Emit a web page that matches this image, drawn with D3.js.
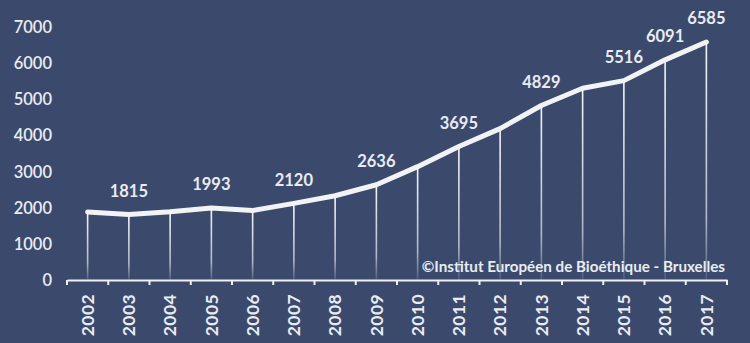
<!DOCTYPE html>
<html><head><meta charset="utf-8">
<script src="https://cdn.jsdelivr.net/npm/d3@7"></script>
<style>
html,body{margin:0;padding:0;background:#3b4a6c;}
svg{display:block;}
</style></head><body>
<svg id="chart" width="750" height="343"></svg>
<script>
const years = ["2002","2003","2004","2005","2006","2007","2008","2009","2010","2011","2012","2013","2014","2015","2016","2017"];
const values = [1882,1815,1886,1993,1923,2120,2331,2636,3136,3695,4188,4829,5306,5516,6091,6585];
const labelled = ["2003","2005","2007","2009","2011","2013","2015","2016","2017"];
const yTicks = [0,1000,2000,3000,4000,5000,6000,7000];
const credit = "©Institut Européen de Bioéthique - Bruxelles";

const W = 750, H = 343;
const svg = d3.select("#chart");
svg.append("rect").attr("width", W).attr("height", H).attr("fill", "#3b4a6c");

const x = d3.scaleBand().domain(years).range([67, 727]);
const y = d3.scaleLinear().domain([0, 7000]).range([280, 27]);
const data = years.map((yr, i) => ({year: yr, value: values[i]}));
const txt = "#e9ecf2";

const defs = svg.append("defs");
const grad = defs.append("linearGradient").attr("id", "drop").attr("x1", 0).attr("y1", 0).attr("x2", 0).attr("y2", 1);
grad.append("stop").attr("offset", "0%").attr("stop-color", "#ffffff").attr("stop-opacity", 0.95);
grad.append("stop").attr("offset", "75%").attr("stop-color", "#ffffff").attr("stop-opacity", 0.6);
grad.append("stop").attr("offset", "100%").attr("stop-color", "#ffffff").attr("stop-opacity", 0.1);

// drop lines
svg.append("g").selectAll("rect").data(data).join("rect")
  .attr("x", d => x(d.year) + x.bandwidth() / 2 - 0.8)
  .attr("width", 1.6)
  .attr("y", d => y(d.value))
  .attr("height", d => y(0) - y(d.value))
  .attr("fill", "url(#drop)");

// y axis labels
svg.append("g").selectAll("text").data(yTicks).join("text")
  .attr("x", 52).attr("y", d => y(d)).attr("dy", "0.36em")
  .attr("text-anchor", "end")
  .attr("font-family", "Lato, 'Open Sans', sans-serif")
  .attr("font-weight", 600).attr("font-size", 16.5)
  .attr("fill", txt).text(d => d);

// x axis
const xAxis = d3.axisBottom(x).tickSize(0).tickFormat(d => d);
const gx = svg.append("g").attr("transform", "translate(0,280)").call(xAxis);
gx.select(".domain").attr("stroke", "#eef0f5").attr("stroke-width", 2.2);
gx.selectAll(".tick text")
  .attr("transform", "rotate(-90)")
  .attr("x", -14).attr("y", 0).attr("dy", "0.36em")
  .attr("text-anchor", "end")
  .attr("font-family", "Lato, 'Open Sans', sans-serif")
  .attr("font-weight", 700).attr("font-size", 17.5)
  .attr("letter-spacing", 0.4)
  .attr("fill", txt);
// boundary ticks
const bounds = years.map(d => x(d)).concat([x(years[years.length - 1]) + x.bandwidth()]);
gx.append("g").selectAll("line").data(bounds).join("line")
  .attr("x1", d => d).attr("x2", d => d).attr("y1", 0).attr("y2", 5)
  .attr("stroke", "#eef0f5").attr("stroke-width", 2);

// main line
const line = d3.line().x(d => x(d.year) + x.bandwidth() / 2).y(d => y(d.value));
svg.append("path").datum(data).attr("d", line)
  .attr("fill", "none").attr("stroke", "#f2f3f5").attr("stroke-width", 5)
  .attr("stroke-linejoin", "round").attr("stroke-linecap", "round");

// data labels
svg.append("g").selectAll("text").data(data.filter(d => labelled.includes(d.year))).join("text")
  .attr("x", d => x(d.year) + x.bandwidth() / 2)
  .attr("y", d => y(d.value) - 17.5)
  .attr("text-anchor", "middle")
  .attr("font-family", "Lato, 'Open Sans', sans-serif")
  .attr("font-weight", 700).attr("font-size", 16.5)
  .attr("fill", txt).text(d => d.value);

// credit
svg.append("text").attr("x", 725).attr("y", 272)
  .attr("text-anchor", "end")
  .attr("font-family", "Lato, 'Open Sans', sans-serif")
  .attr("font-weight", 700).attr("font-size", 15.2)
  .attr("fill", txt).text(credit);
</script>
</body></html>
